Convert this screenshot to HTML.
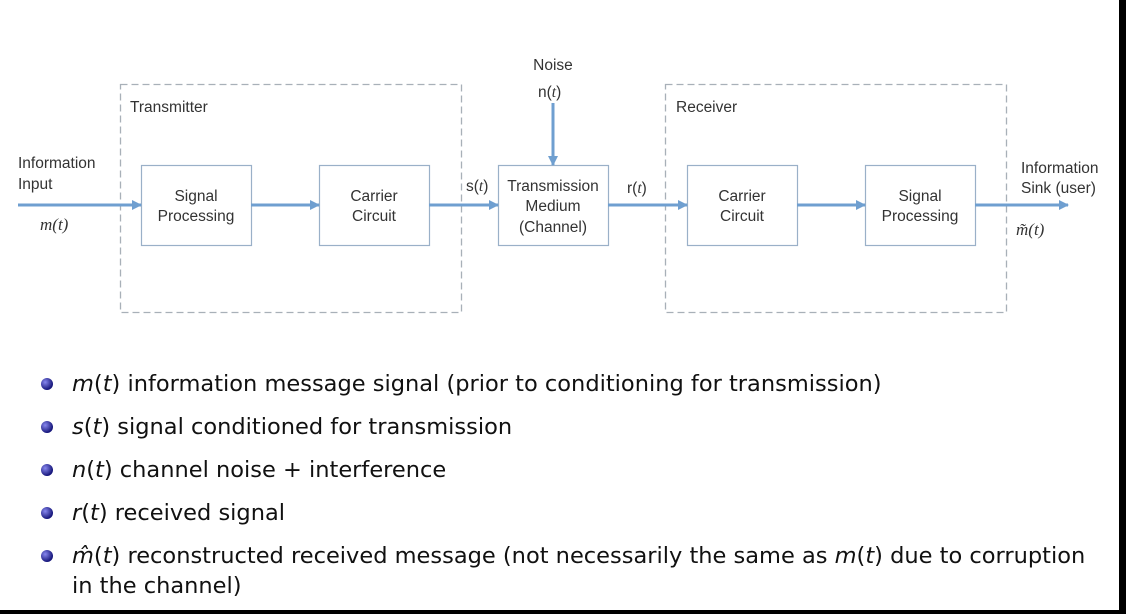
<!DOCTYPE html>
<html><head><meta charset="utf-8"><style>
html,body{margin:0;padding:0;background:#000;}
body{width:1126px;height:614px;overflow:hidden;position:relative;}
svg{position:absolute;left:0;top:0;}
.t{font-family:"Liberation Sans",sans-serif;font-size:15.5px;fill:#333;}
.m{font-family:"Liberation Serif",serif;font-size:17px;fill:#333;font-style:italic;}
.b{font-family:"DejaVu Sans","Liberation Sans",sans-serif;font-size:22.5px;fill:#111;}
.bi{font-style:italic;}
</style></head><body>
<svg width="1126" height="614" viewBox="0 0 1126 614">
<defs>
<marker id="a" markerWidth="10" markerHeight="10" refX="9" refY="5" orient="auto" markerUnits="userSpaceOnUse"><path d="M0,0 L10,5 L0,10 z" fill="#6f9fd0"/></marker>
<radialGradient id="g" cx="35%" cy="35%" r="65%"><stop offset="0" stop-color="#8888ee"/><stop offset="1" stop-color="#15157a"/></radialGradient>
</defs>
<rect x="0" y="0" width="1119" height="610" fill="#fff"/>
<g fill="none" stroke="#a8b0b8" stroke-width="1.3" stroke-dasharray="7,4">
<rect x="120.5" y="84.5" width="341" height="228"/>
<rect x="665.5" y="84.5" width="341" height="228"/>
</g>
<g fill="#fff" stroke="#9ab0c8" stroke-width="1.2">
<rect x="141.5" y="165.5" width="110" height="80"/>
<rect x="319.5" y="165.5" width="110" height="80"/>
<rect x="498.5" y="165.5" width="110" height="80"/>
<rect x="687.5" y="165.5" width="110" height="80"/>
<rect x="865.5" y="165.5" width="110" height="80"/>
</g>
<g stroke="#6f9fd0" stroke-width="3" marker-end="url(#a)">
<line x1="18" y1="205" x2="141" y2="205"/>
<line x1="251" y1="205" x2="319" y2="205"/>
<line x1="429" y1="205" x2="498" y2="205"/>
<line x1="608" y1="205" x2="687" y2="205"/>
<line x1="797" y1="205" x2="865" y2="205"/>
<line x1="975" y1="205" x2="1068" y2="205"/>
<line x1="553" y1="103" x2="553" y2="165"/>
</g>
<g class="t" text-anchor="middle">
<text x="196" y="201">Signal</text><text x="196" y="221">Processing</text>
<text x="374" y="201">Carrier</text><text x="374" y="221">Circuit</text>
<text x="553" y="191">Transmission</text><text x="553" y="211">Medium</text><text x="553" y="232">(Channel)</text>
<text x="742" y="201">Carrier</text><text x="742" y="221">Circuit</text>
<text x="920" y="201">Signal</text><text x="920" y="221">Processing</text>
<text x="553" y="70">Noise</text>
</g>
<g class="t">
<text x="130" y="112">Transmitter</text>
<text x="676" y="112">Receiver</text>
<text x="18" y="168">Information</text><text x="18" y="189">Input</text>
<text x="1021" y="173">Information</text><text x="1021" y="193">Sink (user)</text>
<text x="466" y="191">s(<tspan font-family="Liberation Serif" font-style="italic">t</tspan>)</text>
<text x="627" y="193">r(<tspan font-family="Liberation Serif" font-style="italic">t</tspan>)</text>
<text x="538" y="97">n(<tspan font-family="Liberation Serif" font-style="italic">t</tspan>)</text>
</g>
<text class="m" x="40" y="230">m(t)</text>
<text class="m" x="1016" y="235">m̃(t)</text>
<g fill="url(#g)">
<circle cx="47" cy="384" r="6"/><circle cx="47" cy="427" r="6"/><circle cx="47" cy="470" r="6"/><circle cx="47" cy="513" r="6"/><circle cx="47" cy="556" r="6"/>
</g>
<g class="b">
<text x="72" y="391"><tspan class="bi">m</tspan>(<tspan class="bi">t</tspan>) information message signal (prior to conditioning for transmission)</text>
<text x="72" y="434"><tspan class="bi">s</tspan>(<tspan class="bi">t</tspan>) signal conditioned for transmission</text>
<text x="72" y="477"><tspan class="bi">n</tspan>(<tspan class="bi">t</tspan>) channel noise + interference</text>
<text x="72" y="520"><tspan class="bi">r</tspan>(<tspan class="bi">t</tspan>) received signal</text>
<text x="72" y="563"><tspan class="bi">m̂</tspan>(<tspan class="bi">t</tspan>) reconstructed received message (not necessarily the same as <tspan class="bi">m</tspan>(<tspan class="bi">t</tspan>) due to corruption</text>
<text x="72" y="593">in the channel)</text>
</g>
</svg>
</body></html>
